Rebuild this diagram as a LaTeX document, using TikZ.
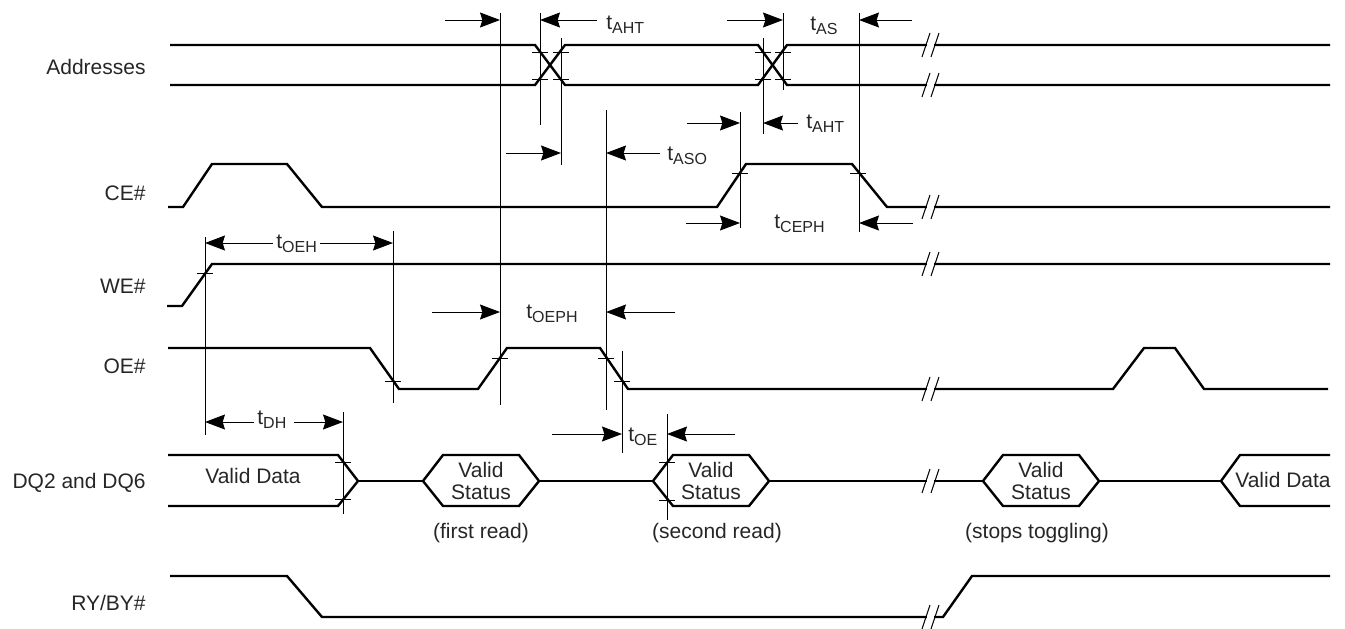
\documentclass[tikz,border=0pt]{standalone}
\usepackage{fontspec}
\setmainfont{Liberation Sans}
\usetikzlibrary{arrows.meta}

\newcommand{\tparam}[1]{t\raisebox{-2pt}{\fontsize{8}{8}\selectfont #1}}
\newcommand{\brkmark}[1]{%
  \draw[white, line width=1.8pt] (927,#1) -- (934,#1);
  \draw[guide] (922,#1+12) -- (930,#1-12) (931,#1+12) -- (939,#1-12);}

\begin{document}
\begin{tikzpicture}[
        x=0.5pt, y=-0.5pt,
        >={Stealth[length=10pt,width=7.5pt,inset=1.2pt]},
        sig/.style={line width=1.2pt, line join=miter},
        guide/.style={line width=0.5pt},
        dim/.style={line width=0.5pt, ->},
        lbl/.style={font=\fontsize{10.5}{11}\selectfont, inner sep=0pt, text=black!85}
        ]
        \useasboundingbox (0,0) rectangle (1345,628);

        % signal names
        \node[lbl, anchor=base east] (addr) at (146,74) {Addresses};
        \node[lbl, anchor=base east] (ce) at (146,200) {CE\#};
        \node[lbl, anchor=base east] (we) at (146,293) {WE\#};
        \node[lbl, anchor=base east] (oe) at (146,373) {OE\#};
        \node[lbl, anchor=base east] (dq) at (146,488) {DQ2 and DQ6};
        \node[lbl, anchor=base east] (ry) at (146,610) {RY/BY\#};

        % waveforms
        \draw[sig] (170,45) -- (535,45) -- (565,85) -- (758,85) -- (787,45) -- (1330,45);
        \draw[sig] (170,85) -- (535,85) -- (565,45) -- (758,45) -- (787,85) -- (1330,85);
        \draw[sig] (168,207) -- (183,207) -- (212,164) -- (287,164) -- (322,207) -- (717,207)
                   -- (746,164) -- (852,164) -- (887,207) -- (1330,207);
        \draw[sig] (167,306) -- (182,306) -- (212,264) -- (1330,264);
        \draw[sig] (168,348) -- (370,348) -- (399,389) -- (478,389) -- (507,348) -- (600,348)
                   -- (628,389) -- (1113,389) -- (1144,348) -- (1175,348) -- (1204,389) -- (1328,389);
        \draw[sig] (168,455) -- (338,455) -- (358,481) -- (338,506) -- (168,506);
        \draw[sig] (358,481) -- (423,481) (539,481) -- (653,481) (769,481) -- (983,481) (1099,481) -- (1221,481);
        \draw[sig] (1330,455) -- (1240,455) -- (1221,481) -- (1240,506) -- (1330,506);
        \foreach \x in {423,653,983}
          \draw[sig] (\x,481) -- (\x+20,455) -- (\x+96,455) -- (\x+116,481) -- (\x+96,506) -- (\x+20,506) -- cycle;
        \draw[sig] (170,576) -- (287,576) -- (322,617) -- (943,617) -- (972,576) -- (1330,576);

        % breaks
        \foreach \y in {45,85,207,264,389,481,617} {\brkmark{\y}}

        % bus labels
        \node[lbl, anchor=base] (vd1) at (253,483) {Valid Data};
        \node[lbl, align=center] (vs1) at (481,481) {Valid\\Status};
        \node[lbl, align=center] (vs2) at (711,481) {Valid\\Status};
        \node[lbl, align=center] (vs3) at (1041,481) {Valid\\Status};
        \node[lbl, anchor=base] (vd2) at (1283,487) {Valid Data};
        \node[lbl, anchor=base] (rd1) at (481,538) {(first read)};
        \node[lbl, anchor=base] (rd2) at (717,538) {(second read)};
        \node[lbl, anchor=base] (rd3) at (1037,538) {(stops toggling)};

        % reference lines and ticks
        \foreach \x/\a/\b in {205/237/435, 343/412/514, 393/231/403, 500/13/405, 540/13/125, 561/38/165,
                              606/110/410, 622/351/453, 667/414/520, 740/112/228, 763/38/134, 783/13/90, 859/13/232}
          \draw[guide] (\x,\a) -- (\x,\b);
        \foreach \x/\y in {540/52, 540/79, 561/52, 561/79, 763/52, 763/79, 783/52, 783/79, 740/173, 858/173,
                           205/273, 393/381, 500/358, 606/358, 622/381, 343/462, 343/499, 667/462, 667/500}
          \draw[guide] (\x-8,\y) -- (\x+8,\y);

        % timing arrows
        \foreach \y/\a/\b in {20/445/500, 20/597/540, 20/727/783, 20/912/859, 123/687/740, 123/798/763,
                              153/506/561, 153/660/606, 223/686/740, 223/913/859, 243/273/205, 243/320/393,
                              312/432/500, 312/675/606, 422/254/205, 422/294/343, 434/552/622, 434/735/667}
          \draw[dim] (\a,\y) -- (\b,\y);

        \node[lbl, anchor=base west] (taht1) at (606,29) {\tparam{AHT}};
        \node[lbl, anchor=base west] (tas) at (810,30) {\tparam{AS}};
        \node[lbl, anchor=base west] (taht2) at (806,128) {\tparam{AHT}};
        \node[lbl, anchor=base west] (taso) at (667,160) {\tparam{ASO}};
        \node[lbl, anchor=base west] (tceph) at (774,228) {\tparam{CEPH}};
        \node[lbl, anchor=base west] (toeh) at (276,248) {\tparam{OEH}};
        \node[lbl, anchor=base west] (toeph) at (526,318) {\tparam{OEPH}};
        \node[lbl, anchor=base west] (tdh) at (257,424) {\tparam{DH}};
        \node[lbl, anchor=base west] (toe) at (628,441) {\tparam{OE}};
\end{tikzpicture}
\end{document}
